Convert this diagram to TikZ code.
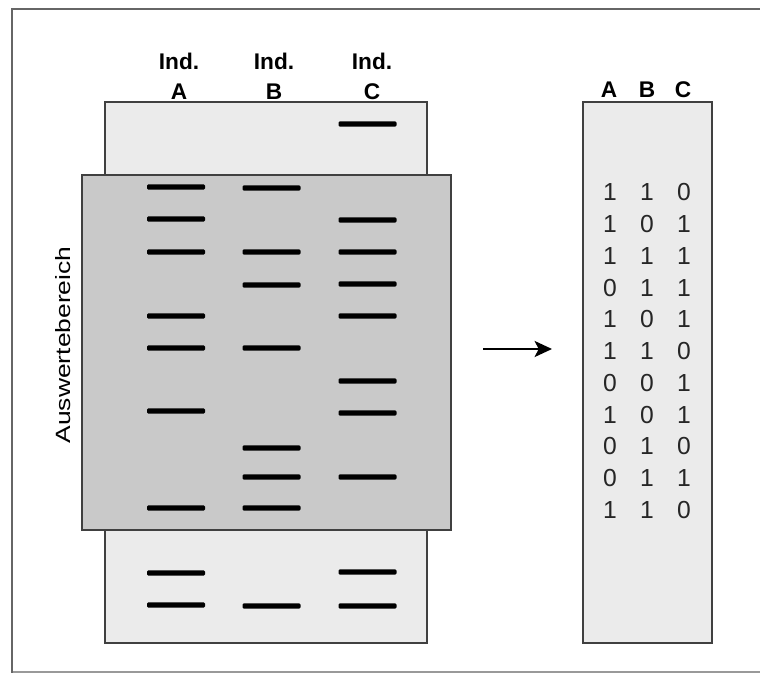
\documentclass[tikz,border=0pt]{standalone}
\usepackage{fontspec}
\setmainfont{Liberation Sans}
\usetikzlibrary{positioning,arrows.meta}
\definecolor{gellight}{gray}{0.92}
\definecolor{geldark}{gray}{0.79}
\definecolor{edgegray}{gray}{0.25}
\tikzset{gel node/.style={rectangle,draw=edgegray,line width=1.5pt,inner sep=0pt},
            band/.style={rectangle,fill=black,minimum width=43.5pt,minimum height=3.9pt,inner sep=0pt,rounded corners=0.9pt},
            col label/.style={font=\bfseries\fontsize{17}{22.5}\selectfont,align=center,inner sep=0pt},
            digit/.style={font=\fontsize{18.5}{20}\selectfont,inner sep=0pt,text=black!85},
            }

\begin{document}
\begin{tikzpicture}[x=0.75pt,y=-0.75pt]
    \useasboundingbox (0,0) rectangle (760,673);
    % frame
    \draw[gray!80,line width=0.8pt] (12,672) -- (760,672);
    \draw[edgegray!80,line width=1.6pt] (760,9) -- (12,9) -- (12,673);

    % gel with the evaluated zone
    \node[gel node,fill=gellight,minimum width=241.5pt,minimum height=405.75pt] (gel) at (266,372.5) {};
    \node[gel node,fill=geldark,minimum width=276.75pt,minimum height=266.25pt] (zone) at (266.5,352.5) {};
    \node[rotate=90,font=\fontsize{15.5}{18}\selectfont,inner sep=0pt] (zonelabel) at (63,345) {\scalebox{1.28}[1]{Auswertebereich}};

    \node[col label,anchor=south] (labA) at (179,100) {Ind.\\A};
    \node[col label,anchor=south] (labB) at (274,100) {Ind.\\B};
    \node[col label,anchor=south] (labC) at (372,100) {Ind.\\C};

    % bands
    \foreach \y [count=\i] in {187,219,252,316,348,411,508,573,605}
        \node[band] (A\i) at (176,\y) {};
    \foreach \y [count=\i] in {188,252,285,348,448,477,508,606}
        \node[band] (B\i) at (271.5,\y) {};
    \foreach \y [count=\i] in {124,220,252,284,316,381,413,477,572,606}
        \node[band] (C\i) at (367.5,\y) {};

    % matrix
    \node[gel node,fill=gellight,minimum width=96.75pt,minimum height=405.75pt] (matrix) at (647.5,372.5) {};
    \node[col label,anchor=base] (mlabA) at (609,98) {A};
    \node[col label,anchor=base] (mlabB) at (647,98) {B};
    \node[col label,anchor=base] (mlabC) at (683,98) {C};
    \foreach \a/\b/\c [count=\i] in {1/1/0,1/0/1,1/1/1,0/1/1,1/0/1,1/1/0,0/0/1,1/0/1,0/1/0,0/1/1,1/1/0} {
        \node[digit] (mA\i) at (610,{192.5+31.75*(\i-1)}) {\a};
        \node[digit] (mB\i) at (647,{192.5+31.75*(\i-1)}) {\b};
        \node[digit] (mC\i) at (684,{192.5+31.75*(\i-1)}) {\c};
    }

    \coordinate (arrowstart) at (483,349);
    \coordinate (arrowend) at (552,349);
    \draw[line width=1.6pt,-{Stealth[length=13pt,width=12pt,inset=3pt]}] (arrowstart) -- (arrowend);

\end{tikzpicture}
\end{document}
